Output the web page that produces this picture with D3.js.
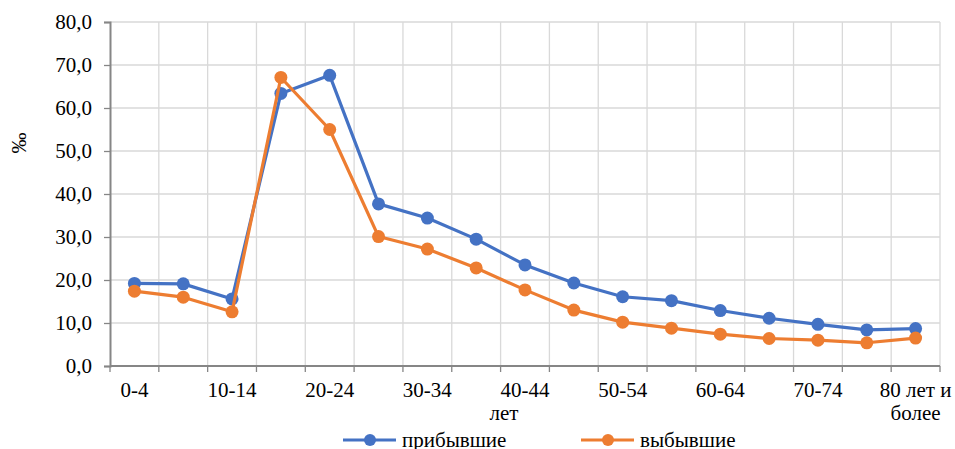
<!DOCTYPE html>
<html>
<head>
<meta charset="utf-8">
<script src="https://cdn.jsdelivr.net/npm/d3@7"></script>
<style>
  body { margin: 0; background: #fff; }
  svg text { font-family: 'Liberation Serif', 'Times New Roman'; fill: #000; }
</style>
</head>
<body>
<svg id="chart"></svg>
<script>
// age groups
var categories = ["0-4", "5-9", "10-14", "15-19", "20-24", "25-29", "30-34", "35-39",
  "40-44", "45-49", "50-54", "55-59", "60-64", "65-69", "70-74", "75-79", "80 лет и более"];

// per mille values
var arrived = [19.2, 19.1, 15.6, 63.4, 67.6, 37.7, 34.4, 29.5, 23.5, 19.3, 16.1, 15.2, 12.9, 11.1, 9.7, 8.4, 8.7];
var departed = [17.4, 16.0, 12.6, 67.1, 55.0, 30.1, 27.2, 22.8, 17.7, 13.0, 10.2, 8.8, 7.4, 6.4, 6.0, 5.4, 6.5];

var yTicks = [0, 10, 20, 30, 40, 50, 60, 70, 80];
var seriesNames = ["прибывшие", "выбывшие"];
var colors = ["#4472C4", "#ED7D31"];

var width = 955, height = 449;
var margin = {top: 22, right: 15, bottom: 83, left: 110};
var fontSize = 21;

var svg = d3.select("#chart")
  .attr("width", width)
  .attr("height", height);

var x = d3.scaleBand()
  .domain(categories)
  .range([margin.left, width - margin.right])
  .padding(0);

var y = d3.scaleLinear()
  .domain([0, 80])
  .range([height - margin.bottom, margin.top]);

var fmt = d3.formatLocale({decimal: ",", thousands: " ", grouping: [3], currency: ["", ""]}).format(".1f");

// horizontal grid
svg.append("g")
  .selectAll("line")
  .data(yTicks.slice(1))
  .enter().append("line")
    .attr("x1", margin.left)
    .attr("x2", width - margin.right)
    .attr("y1", d => y(d))
    .attr("y2", d => y(d))
    .attr("stroke", "#d9d9d9")
    .attr("stroke-width", 1.3);

// vertical grid at category boundaries
var bounds = categories.map(c => x(c) + x.bandwidth());
svg.append("g")
  .selectAll("line")
  .data(bounds)
  .enter().append("line")
    .attr("x1", d => d)
    .attr("x2", d => d)
    .attr("y1", margin.top)
    .attr("y2", y(0))
    .attr("stroke", "#d9d9d9")
    .attr("stroke-width", 1.3);

// y axis
var yAxis = svg.append("g")
  .attr("transform", "translate(" + margin.left + ",0)")
  .call(d3.axisLeft(y).tickValues(yTicks).tickFormat(fmt).tickSize(6).tickPadding(12));
yAxis.attr("font-family", null);
yAxis.select(".domain").attr("stroke", "#868686").attr("stroke-width", 2);
yAxis.selectAll(".tick line").attr("stroke", "#868686").attr("stroke-width", 1.3);
yAxis.selectAll(".tick text")
  .attr("font-size", fontSize)
  .attr("fill", "#000");

// x axis line and boundary ticks
svg.append("line")
  .attr("x1", margin.left)
  .attr("x2", width - margin.right)
  .attr("y1", y(0))
  .attr("y2", y(0))
  .attr("stroke", "#868686")
  .attr("stroke-width", 2);

svg.append("g")
  .selectAll("line")
  .data([margin.left].concat(bounds))
  .enter().append("line")
    .attr("x1", d => d)
    .attr("x2", d => d)
    .attr("y1", y(0))
    .attr("y2", y(0) + 6)
    .attr("stroke", "#868686")
    .attr("stroke-width", 1.3);

// x labels, every second category
var xLabels = svg.append("g")
  .selectAll("text")
  .data(categories.filter((c, i) => i % 2 == 0))
  .enter().append("text")
    .attr("x", d => x(d) + x.bandwidth() / 2)
    .attr("y", y(0) + 31)
    .attr("text-anchor", "middle")
    .attr("font-size", fontSize);

xLabels.each(function(d) {
  var t = d3.select(this);
  if(d == "80 лет и более") {
    t.append("tspan").attr("x", x(d) + x.bandwidth() / 2).text("80 лет и");
    t.append("tspan").attr("x", x(d) + x.bandwidth() / 2).attr("dy", 23).text("более");
  } else {
    t.text(d);
  }
});

// x axis title
svg.append("text")
  .attr("x", 504)
  .attr("y", y(0) + 54)
  .attr("text-anchor", "middle")
  .attr("font-size", fontSize)
  .text("лет");

// y axis title
svg.append("text")
  .attr("transform", "translate(26,143) rotate(-90)")
  .attr("text-anchor", "middle")
  .attr("font-size", fontSize)
  .text("‰");

// series
var line = d3.line()
  .x((d, i) => x(categories[i]) + x.bandwidth() / 2)
  .y(d => y(d));

[arrived, departed].forEach(function(values, k) {
  var g = svg.append("g");
  g.append("path")
    .datum(values)
    .attr("fill", "none")
    .attr("stroke", colors[k])
    .attr("stroke-width", 3.2)
    .attr("stroke-linejoin", "round")
    .attr("d", line);
  g.selectAll("circle")
    .data(values)
    .enter().append("circle")
      .attr("cx", (d, i) => x(categories[i]) + x.bandwidth() / 2)
      .attr("cy", d => y(d))
      .attr("r", 6.5)
      .attr("fill", colors[k]);
});

// legend
var legendX = [343, 581];
var legend = svg.append("g")
  .selectAll("g")
  .data(seriesNames)
  .enter().append("g")
    .attr("transform", (d, i) => "translate(" + legendX[i] + ",440)");
legend.append("line")
  .attr("x1", 0).attr("x2", 53)
  .attr("stroke", (d, i) => colors[i])
  .attr("stroke-width", 3.2);
legend.append("circle")
  .attr("cx", 27).attr("r", 6)
  .attr("fill", (d, i) => colors[i]);
legend.append("text")
  .attr("x", 59)
  .attr("y", 7)
  .attr("font-size", fontSize)
  .text(d => d);
</script>
</body>
</html>
